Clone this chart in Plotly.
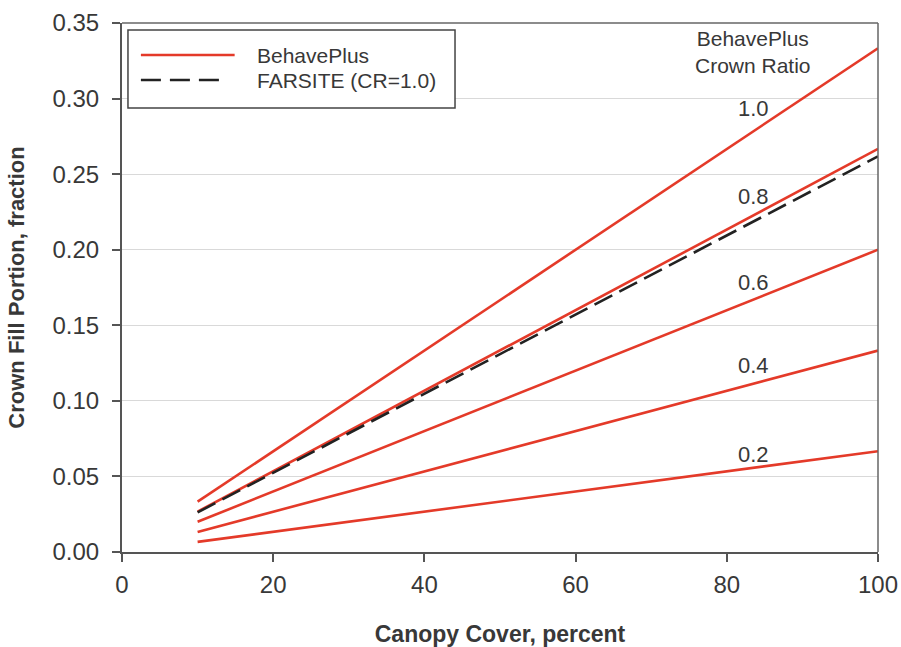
import plotly.graph_objects as go

# Canopy cover endpoints (percent)
canopy_cover = [10, 100]

# BehavePlus crown fill portion for each crown ratio
crown_ratios = ["1.0", "0.8", "0.6", "0.4", "0.2"]
behaveplus_cfp = [
    [0.0333, 0.3333],
    [0.0267, 0.2667],
    [0.0200, 0.2000],
    [0.0133, 0.1333],
    [0.0067, 0.0667],
]
# FARSITE crown fill portion (crown ratio 1.0)
farsite_cfp = [0.0262, 0.2618]

# Label anchor positions for the crown ratio labels
label_x = 83.5
label_y = [0.2935, 0.2350, 0.1786, 0.1231, 0.0648]

x_ticks = [0, 20, 40, 60, 80, 100]
y_ticks = [0.00, 0.05, 0.10, 0.15, 0.20, 0.25, 0.30, 0.35]

RED = "#e43a29"
TXT = "#383838"
FONT = "Liberation Sans, Arial, sans-serif"

fig = go.Figure()

for cfp in behaveplus_cfp:
    fig.add_trace(go.Scatter(x=canopy_cover, y=cfp, mode="lines",
                             line=dict(color=RED, width=2.6),
                             showlegend=False, hoverinfo="skip"))

fig.add_trace(go.Scatter(x=canopy_cover, y=farsite_cfp, mode="lines",
                         line=dict(color="#222222", width=2.6, dash="20px,8px"),
                         showlegend=False, hoverinfo="skip"))

annotations = []
for lab, ly in zip(crown_ratios, label_y):
    annotations.append(dict(x=label_x, y=ly, xref="x", yref="y", text=lab,
                            showarrow=False, yanchor="middle",
                            font=dict(size=22, color=TXT, family=FONT)))

annotations.append(dict(x=83.5, y=0.3485, xref="x", yref="y",
                        text="BehavePlus<br>Crown Ratio", showarrow=False,
                        yanchor="top", align="center",
                        font=dict(size=21, color=TXT, family=FONT)))

# Legend box drawn in paper coordinates
shapes = [
    dict(type="rect", xref="paper", yref="paper", x0=0.0079, x1=0.4405,
         y0=0.8393, y1=0.9868, line=dict(color="#444444", width=1.5),
         fillcolor="white", layer="above"),
    dict(type="line", xref="paper", yref="paper", x0=0.025, x1=0.149,
         y0=0.9395, y1=0.9395, line=dict(color=RED, width=2.6), layer="above"),
    dict(type="line", xref="paper", yref="paper", x0=0.025, x1=0.137,
         y0=0.8922, y1=0.8922, line=dict(color="#222222", width=2.6, dash="20px,9px"),
         layer="above"),
    # frame on the top and right
    dict(type="line", xref="paper", yref="paper", x0=0, x1=1, y0=1, y1=1,
         line=dict(color="#666666", width=1.5)),
    dict(type="line", xref="paper", yref="paper", x0=1, x1=1, y0=0, y1=1,
         line=dict(color="#666666", width=1.5)),
]
annotations.append(dict(x=0.1755, y=0.9395, xref="paper", yref="paper",
                        text="BehavePlus", showarrow=False, xanchor="left",
                        yanchor="middle",
                        font=dict(size=21, color=TXT, family=FONT)))
annotations.append(dict(x=0.1755, y=0.8922, xref="paper", yref="paper",
                        text="FARSITE (CR=1.0)", showarrow=False, xanchor="left",
                        yanchor="middle",
                        font=dict(size=21, color=TXT, family=FONT)))

fig.update_layout(
    width=901, height=647,
    margin=dict(l=122, r=23, t=23, b=95, autoexpand=False),
    paper_bgcolor="white", plot_bgcolor="white",
    font=dict(family=FONT, color=TXT),
    shapes=shapes, annotations=annotations,
    xaxis=dict(range=[0, 100], tickvals=x_ticks, ticks="outside", ticklen=8,
               tickwidth=1.5, tickcolor="#555555", showline=True, linewidth=2,
               linecolor="#555555", showgrid=False, zeroline=False,
               ticklabelstandoff=2, automargin=False,
               tickfont=dict(size=24, color=TXT, family=FONT),
               title=dict(text="<b>Canopy Cover, percent</b>", standoff=30,
                          font=dict(size=23, color=TXT, family=FONT))),
    yaxis=dict(range=[0, 0.35], tickvals=y_ticks, tickformat=".2f", ticks="outside",
               ticklen=8, tickwidth=1.5, tickcolor="#555555", showline=True,
               linewidth=2, linecolor="#555555", showgrid=True,
               gridcolor="#d9d9d9", gridwidth=1, zeroline=False,
               ticklabelstandoff=8, automargin=False,
               tickfont=dict(size=24, color=TXT, family=FONT),
               title=dict(text="<b>Crown Fill Portion, fraction</b>", standoff=22,
                          font=dict(size=22, color=TXT, family=FONT))),
)

fig.write_html("out.html")
